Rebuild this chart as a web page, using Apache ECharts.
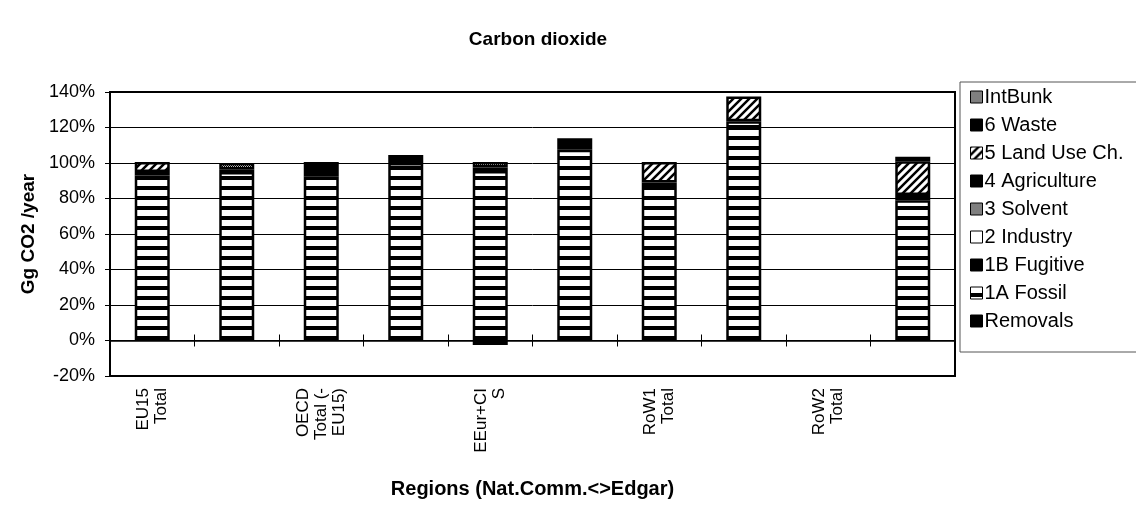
<!DOCTYPE html>
<html><head><meta charset="utf-8">
<script src="https://cdn.jsdelivr.net/npm/echarts@6/dist/echarts.min.js"></script>
<style>html,body{margin:0;padding:0;background:#fff}#c{width:1136px;height:510px}</style>
</head><body><div id="c"></div>
<script>
// ---- data ----
const regionLabels = ['EU15\nTotal', '', 'OECD\nTotal (-\nEU15)', '', 'EEur+CI\nS', '', 'RoW1\nTotal', '', 'RoW2\nTotal', ''];
const categoryIds = ['0', '1', '2', '3', '4', '5', '6', '7', '8', '9'];
const yTicks = [-20, 0, 20, 40, 60, 80, 100, 120, 140];
const removals    = [null, null, null, null, -2.5, null, null, null, null, null];
const fossil1A    = [93, 95, 92.5, 100, 95.5, 107.5, 87, 120, null, 79];
const fugitive1B  = [null, null, 8, 4.5, null, 6.5, null, null, null, 3];
const industry2   = [2, 1.5, null, null, 2, null, 2, 3.5, null, null];
const solvent3    = [null, 3.5, null, null, 3, null, null, null, null, null];
const agriculture4= [null, null, null, null, null, null, null, null, null, null];
const landUse5    = [5.5, null, null, null, null, null, 11.5, 14, null, 19];
const waste6      = [null, null, null, null, null, null, null, null, null, null];
const intBunk     = [null, null, null, null, null, null, null, null, null, 2.5];

// ---- patterns ----
function mk(w, h, draw) { const c = document.createElement('canvas'); c.width = w; c.height = h; const x = c.getContext('2d'); draw(x); return { image: c, repeat: 'repeat' }; }
const stripePat = mk(4, 10, x => { x.fillStyle = '#000'; x.fillRect(0, 0, 4, 10); x.fillStyle = '#fff'; x.fillRect(0, 0, 4, 6); });
const hatchPat = mk(8, 8, x => {
  x.fillStyle = '#fff'; x.fillRect(0, 0, 8, 8);
  x.strokeStyle = '#000'; x.lineWidth = 2.5;
  x.beginPath(); x.moveTo(0, 8); x.lineTo(8, 0); x.moveTo(-2, 2); x.lineTo(2, -2); x.moveTo(6, 10); x.lineTo(10, 6); x.stroke();
});
const greyPat = mk(2, 2, x => { x.fillStyle = '#fff'; x.fillRect(0, 0, 2, 2); x.fillStyle = '#000'; x.fillRect(0, 0, 1, 1); x.fillRect(1, 1, 1, 1); });

const seriesDefs = [
  ['Removals', removals, '#000'],
  ['1A Fossil', fossil1A, stripePat],
  ['1B Fugitive', fugitive1B, '#000'],
  ['2 Industry', industry2, '#fff'],
  ['3 Solvent', solvent3, greyPat],
  ['4 Agriculture', agriculture4, '#000'],
  ['5 Land Use Ch.', landUse5, hatchPat],
  ['6 Waste', waste6, '#000'],
  ['IntBunk', intBunk, greyPat]
];
const legendOrder = ['IntBunk', '6 Waste', '5 Land Use Ch.', '4 Agriculture', '3 Solvent', '2 Industry', '1B Fugitive', '1A Fossil', 'Removals'];

const FONT = '"Liberation Sans", Arial, sans-serif';
const GRID = { left: 110, right: 181, top: 92, bottom: 134 };
const Y_MIN = -20, Y_MAX = 140;
const gridH = 510 - GRID.top - GRID.bottom;
const zeroOffset = -gridH * (Y_MAX - 0) / (Y_MAX - Y_MIN); // move top-side tick axis onto the zero line

const chart = echarts.init(document.getElementById('c'), null, { renderer: 'canvas' });
chart.setOption({
  animation: false,
  backgroundColor: '#fff',
  textStyle: { fontFamily: FONT, color: '#000' },
  title: { text: 'Carbon dioxide', left: 533, textAlign: 'center', top: 25,
    textStyle: { fontFamily: FONT, fontSize: 19, fontWeight: 'bold', color: '#000' } },
  legend: {
    orient: 'vertical', left: 960, top: 82, data: legendOrder, icon: 'rect',
    itemWidth: 12, itemHeight: 12, itemGap: 8,
    padding: [5, 40, 21, 10],
    borderColor: '#555', borderWidth: 1,
    textStyle: { fontFamily: FONT, fontSize: 20, color: '#000', padding: [0, 0, 0, -3] },
    itemStyle: { borderColor: '#000', borderWidth: 1 }
  },
  grid: Object.assign({ show: true, borderColor: '#000', borderWidth: 2, backgroundColor: 'transparent' }, GRID),
  xAxis: [
    { type: 'category', data: categoryIds, position: 'bottom',
      axisLine: { onZero: true, lineStyle: { color: '#000', width: 1.5 } },
      axisTick: { show: true, length: 6, lineStyle: { color: '#000' } },
      axisLabel: { show: false }, splitLine: { show: false } },
    { type: 'category', data: categoryIds, position: 'top', offset: zeroOffset,
      axisLine: { onZero: false, show: false },
      axisTick: { show: true, length: 6, lineStyle: { color: '#000' } },
      axisLabel: { show: false }, splitLine: { show: false } },
    { type: 'category', data: categoryIds, position: 'bottom',
      axisLine: { onZero: false, show: false }, axisTick: { show: false },
      axisLabel: { rotate: 90, fontSize: 17, lineHeight: 18, margin: 12, color: '#000', fontFamily: FONT,
        formatter: (v, i) => regionLabels[i] },
      name: 'Regions (Nat.Comm.<>Edgar)', nameLocation: 'middle', nameGap: 103,
      nameTextStyle: { fontFamily: FONT, fontSize: 20, fontWeight: 'bold', color: '#000' } }
  ],
  yAxis: {
    type: 'value', min: Y_MIN, max: Y_MAX, interval: 20,
    axisLine: { show: true, lineStyle: { color: '#000', width: 2 } },
    axisTick: { show: true, length: 5, lineStyle: { color: '#000' } },
    axisLabel: { fontSize: 18, color: '#000', margin: 15, fontFamily: FONT,
      formatter: v => yTicks.includes(v) ? v + '%' : '' },
    splitLine: { show: true, lineStyle: { color: '#000', width: 1 } },
    name: 'Gg CO2 /year', nameLocation: 'middle', nameGap: 69,
    nameTextStyle: { fontFamily: FONT, fontSize: 19, fontWeight: 'bold', color: '#000' }
  },
  series: seriesDefs.map(([name, data, color]) => ({
    name, type: 'bar', stack: 'total', xAxisIndex: 0, data,
    barWidth: 35,
    itemStyle: { color, borderColor: '#000', borderWidth: 2.5 }
  }))
});
</script></body></html>
